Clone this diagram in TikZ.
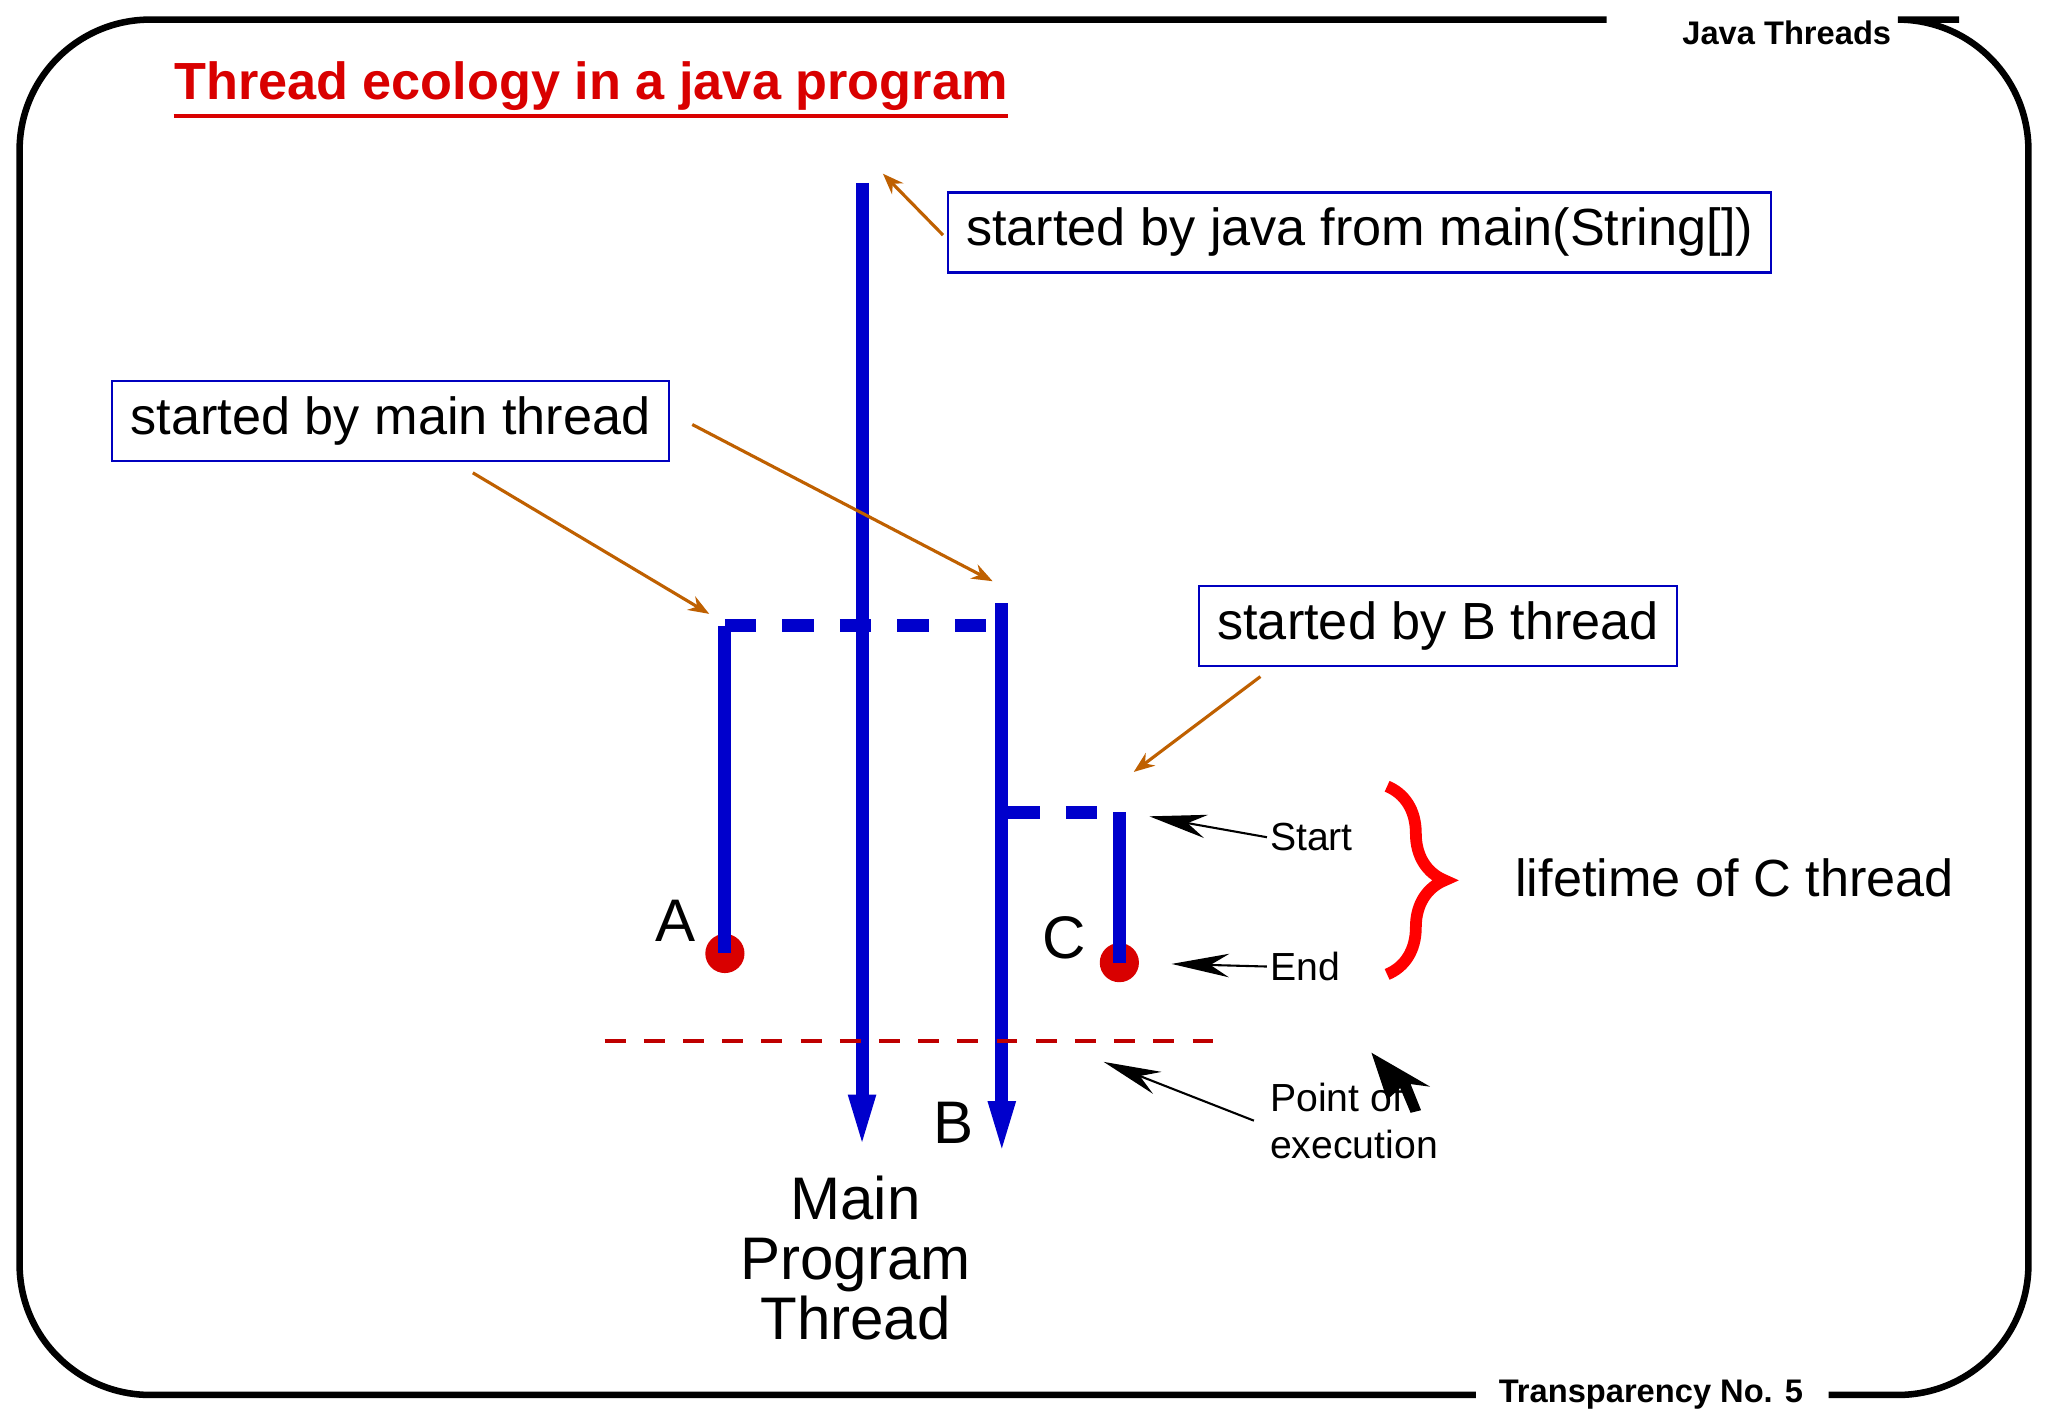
\documentclass[tikz,border=0pt]{standalone}
\usepackage{fontspec}
\setmainfont{Liberation Sans}
\usetikzlibrary{arrows.meta,decorations.pathreplacing}
\begin{document}
\begin{tikzpicture}[x=0.5pt,y=-0.5pt,
  thr/.style={draw=blue!80!black,line width=5pt},
  thrdash/.style={thr,dash pattern=on 12pt off 10pt},
  lbl/.style={draw=blue!75!black,line width=0.8pt,inner xsep=7pt,inner ysep=6pt,font=\fontsize{20}{24}\selectfont},
  oarr/.style={draw=orange!75!black,line width=1.2pt,-{Stealth[length=8pt,width=6pt]}},
  barr/.style={draw=black,line width=0.8pt,-{Stealth[length=22pt,width=9pt]}},
  small/.style={font=\fontsize{15}{18}\selectfont,inner sep=1pt},
  big/.style={font=\fontsize{23}{23}\selectfont},
  dot/.style={circle,fill=red!85!black,minimum size=15pt,inner sep=0pt}]
\useasboundingbox (0,0) rectangle (1568,1086);
\fill[white] (0,0) rectangle (1568,1086);
% frame
\draw[line width=2.5pt,rounded corners=50pt] (1230,15) -- (15,15) -- (15,1068) -- (1130,1068);
\draw[line width=2.5pt,rounded corners=50pt] (1400,1068) -- (1553,1068) -- (1553,15) -- (1500,15);
\node[font=\bfseries\fontsize{12.5}{14}\selectfont] (hdr) at (1368,25) {Java Threads};
\node[font=\bfseries\fontsize{12.5}{14}\selectfont] (ftr) at (1264,1068) {Transparency No. 5};
\node[anchor=west,text=red!85!black,font=\bfseries\fontsize{20}{24}\selectfont,inner sep=0pt] (title) at (133,66) {Thread ecology in a java program};
\draw[red!85!black,line width=1.5pt] (133,89) -- (772,89);
% threads
\coordinate (mtop) at (660,140); \coordinate (mbot) at (660,882);
\coordinate (btop) at (767,462); \coordinate (bbot) at (767,887);
\coordinate (aj) at (555,479); \coordinate (bj) at (767,479);
\coordinate (cj) at (857,622); \coordinate (bcj) at (772,622);
\draw[thr,-{Triangle[length=22pt,width=9pt]}] (mtop) -- (mbot);
\draw[thr,-{Triangle[length=22pt,width=9pt]}] (btop) -- (bbot);
\draw[thrdash] (aj) -- (bj);
\node[dot] (adot) at (555,730) {};
\draw[thr] (aj) -- (adot.center);
\draw[thrdash] (bcj) -- (cj);
\node[dot] (cdot) at (857,737) {};
\draw[thr] (cj) -- (cdot.center);
\draw[red!75!black,line width=1.5pt,dash pattern=on 8pt off 7pt] (463,797) -- (930,797);
\node[big] (A) at (517,705) {A};
\node[big] (C) at (815,718) {C};
\node[big] (B) at (730,860) {B};
\node[big,align=center,text width=200pt] (main) at (655,963) {Main\\Program\\Thread};
% boxes
\node[lbl] (b1) at (1041,178) {started by java from main(String[])};
\node[lbl] (b2) at (299,322) {started by main thread};
\node[lbl] (b3) at (1101,479) {started by B thread};
\coordinate (t1) at (676,133); \coordinate (t2) at (543,470);
\coordinate (t3) at (760,445); \coordinate (t4) at (868,591);
\draw[oarr] (722,180) -- (t1);
\draw[oarr] (362,362) -- (t2);
\draw[oarr] (530,325) -- (t3);
\draw[oarr] (965,518) -- (t4);
% black annotations
\node[small,anchor=west] (st) at (970,641) {Start};
\node[small,anchor=west] (en) at (970,740) {End};
\node[small,anchor=west,align=left] (pe) at (970,858) {Point of\\execution};
\coordinate (sp) at (880,625); \coordinate (ep) at (897,738); \coordinate (pp) at (845,813);
\draw[barr] (st.west) -- (sp);
\draw[barr] (en.west) -- (ep);
\draw[barr] (960,858) -- (pp);
\fill[black] (1050,806) -- (1095,832) -- (1080,830) -- (1088,850) -- (1080,852) -- (1072,833) -- (1062,842) -- cycle;
% brace
\draw[red,line width=4.5pt,decorate,decoration={brace,amplitude=22pt}] (1062,602) -- (1062,746);
\node[font=\fontsize{20}{24}\selectfont] (life) at (1328,672) {lifetime of C thread};
\end{tikzpicture}
\end{document}
